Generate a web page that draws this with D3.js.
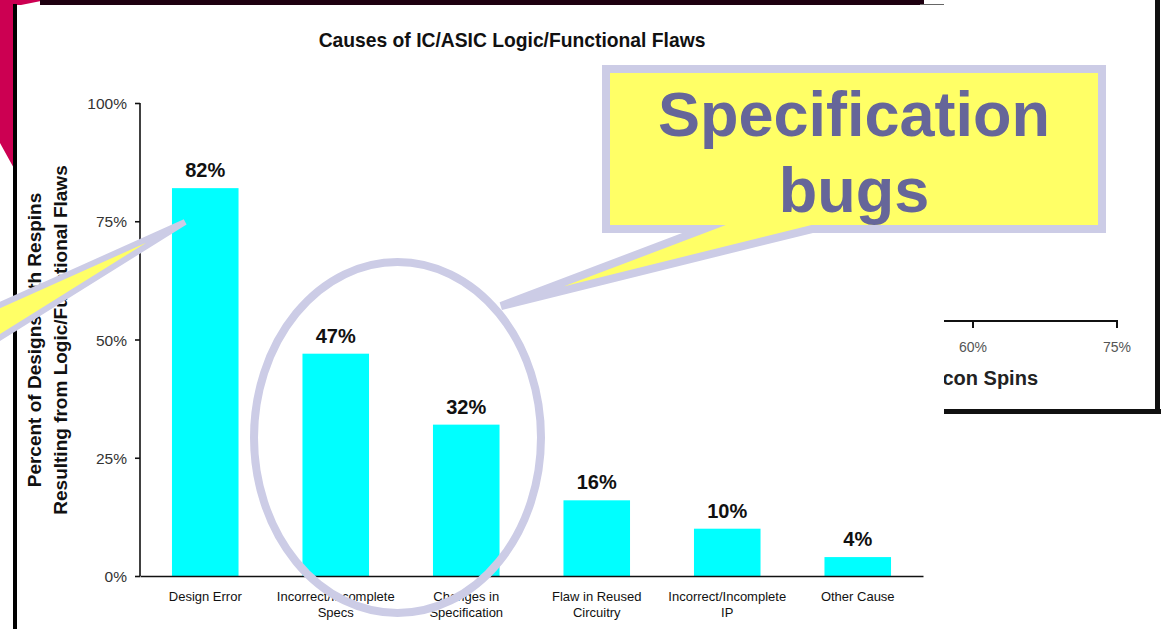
<!DOCTYPE html>
<html>
<head>
<meta charset="utf-8">
<script src="https://cdn.jsdelivr.net/npm/d3@7"></script>
<style>
  body { margin: 0; background: #fff; }
  svg { display: block; font-family: "Liberation Sans", Arial, sans-serif; }
</style>
</head>
<body>
<div id="chart"></div>
<script>
// chart data
var categories = ["Design Error", "Incorrect/Incomplete Specs", "Changes in Specification",
                  "Flaw in Reused Circuitry", "Incorrect/Incomplete IP", "Other Cause"];
var labelLines = [["Design Error"], ["Incorrect/Incomplete", "Specs"], ["Changes in", "Specification"],
                  ["Flaw in Reused", "Circuitry"], ["Incorrect/Incomplete", "IP"], ["Other Cause"]];
var values = [82, 47, 32, 16, 10, 4];
var yTicks = [0, 25, 50, 75, 100];
// partly hidden chart behind the overlay
var backTicks = [60, 75];

drawSlide();

function drawSlide() {
    var width = 1161, height = 629;
    var svg = d3.select("#chart").append("svg")
        .attr("width", width)
        .attr("height", height);

    svg.append("rect").attr("width", width).attr("height", height).attr("fill", "#fff");

    // background chart on the right (mostly covered)
    var defs = svg.append("defs");
    defs.append("clipPath").attr("id", "backclip")
      .append("rect").attr("x", 944).attr("y", 0).attr("width", 220).attr("height", 420);

    var back = svg.append("g").attr("clip-path", "url(#backclip)");
    var bx = d3.scaleLinear().domain([60, 75]).range([973, 1117]);
    back.append("line")
        .attr("x1", 900).attr("x2", bx(75))
        .attr("y1", 321).attr("y2", 321)
        .attr("stroke", "#111").attr("stroke-width", 2);
    back.selectAll(".btick").data(backTicks).enter().append("line")
        .attr("x1", d => bx(d)).attr("x2", d => bx(d))
        .attr("y1", 320).attr("y2", 328)
        .attr("stroke", "#111").attr("stroke-width", 2);
    back.selectAll(".blabel").data(backTicks).enter().append("text")
        .attr("x", d => bx(d)).attr("y", 352)
        .attr("text-anchor", "middle")
        .attr("font-size", 14)
        .attr("fill", "#555")
        .text(d => d + "%");
    back.append("text")
        .attr("x", 1038).attr("y", 385)
        .attr("text-anchor", "end")
        .attr("font-size", 20).attr("font-weight", "bold")
        .attr("fill", "#222")
        .text("Silicon Spins");
    back.append("rect").attr("x", 930).attr("y", 409).attr("width", 231).attr("height", 5).attr("fill", "#111");
    back.append("rect").attr("x", 1155).attr("y", 0).attr("width", 5).attr("height", 414).attr("fill", "#111");

    // slide decoration at top left
    svg.append("polygon")
        .attr("points", "0,0 46,0 16,6 16,172 0,143")
        .attr("fill", "#cc0052");
    svg.append("rect").attr("x", 40).attr("y", 0).attr("width", 884).attr("height", 5).attr("fill", "#1e0010");
    svg.append("line").attr("x1", 920).attr("x2", 944).attr("y1", 4.5).attr("y2", 4.5)
        .attr("stroke", "#666").attr("stroke-width", 1);

    // main chart panel
    svg.append("rect").attr("x", 17).attr("y", 5).attr("width", 927).attr("height", 624).attr("fill", "#fff");
    svg.append("rect").attr("x", 13).attr("y", 4).attr("width", 4).attr("height", 625).attr("fill", "#000");

    var x = d3.scaleBand()
        .domain(categories)
        .range([140, 923])
        .paddingInner(0.49)
        .paddingOuter(0.245);
    var y = d3.scaleLinear().domain([0, 100]).range([576, 103]);

    var g = svg.append("g");

    g.append("text")
        .attr("x", 512).attr("y", 47)
        .attr("text-anchor", "middle")
        .attr("font-size", 19.3).attr("font-weight", "bold")
        .attr("fill", "#111")
        .text("Causes of IC/ASIC Logic/Functional Flaws");

    g.selectAll(".bar").data(values).enter().append("rect")
        .attr("x", (d, i) => x(categories[i]))
        .attr("y", d => y(d))
        .attr("width", x.bandwidth())
        .attr("height", d => y(0) - y(d))
        .attr("fill", "#00ffff");

    g.selectAll(".val").data(values).enter().append("text")
        .attr("x", (d, i) => x(categories[i]) + x.bandwidth() / 2)
        .attr("y", d => y(d) - 11)
        .attr("text-anchor", "middle")
        .attr("font-size", 20).attr("font-weight", "bold")
        .attr("fill", "#111")
        .text(d => d + "%");

    var yAxis = g.append("g")
        .attr("transform", "translate(140,0)")
        .call(d3.axisLeft(y).tickValues(yTicks).tickSize(5).tickFormat(d => d + "%"));
    yAxis.select(".domain").attr("stroke", "#111").attr("stroke-width", 1.6).attr("d", "M0," + y(100) + "V" + y(0));
    yAxis.selectAll(".tick line").attr("stroke", "#111").attr("stroke-width", 1.6);
    yAxis.selectAll(".tick text")
        .attr("x", -13).attr("dy", "0.36em")
        .attr("font-size", 15.5)
        .attr("font-family", "Liberation Sans, Arial, sans-serif")
        .attr("fill", "#333");

    var xAxis = g.append("g")
        .attr("transform", "translate(0," + y(0) + ")")
        .call(d3.axisBottom(x).tickSize(0).tickFormat(""));
    xAxis.select(".domain").attr("stroke", "#111").attr("stroke-width", 1.6);

    g.selectAll(".cat").data(labelLines).enter().append("text")
        .attr("x", (d, i) => x(categories[i]) + x.bandwidth() / 2)
        .attr("y", 601)
        .attr("text-anchor", "middle")
        .attr("font-size", 13)
        .attr("fill", "#111")
        .each(function(d) {
            d3.select(this).selectAll("tspan").data(d).enter().append("tspan")
              .attr("x", d3.select(this).attr("x"))
              .attr("dy", (t, j) => j ? 16 : 0)
              .text(t => t);
        });

    var yt = g.append("text")
        .attr("transform", "translate(0,340) rotate(-90)")
        .attr("text-anchor", "middle")
        .attr("font-size", 19).attr("font-weight", "bold")
        .attr("fill", "#111");
    yt.append("tspan").attr("x", 0).attr("y", 41).text("Percent of Designs with Respins");
    yt.append("tspan").attr("x", 0).attr("y", 67).text("Resulting from Logic/Functional Flaws");

    // overlay: ellipse round the specification bars
    var lav = "#ccccE6";
    svg.append("ellipse")
        .attr("cx", 397.5).attr("cy", 437.5)
        .attr("rx", 143.5).attr("ry", 175.5)
        .attr("fill", "none").attr("stroke", lav).attr("stroke-width", 8);

    // callout box
    svg.append("path")
        .attr("d", "M606,69H1102V229H812L501,306L704,229H606Z")
        .attr("fill", "#ffff66").attr("stroke", lav).attr("stroke-width", 8)
        .attr("stroke-linejoin", "miter").attr("stroke-miterlimit", 10);
    var ct = svg.append("text")
        .attr("text-anchor", "middle")
        .attr("font-size", 63).attr("font-weight", "bold")
        .attr("fill", "#666699");
    ct.append("tspan").attr("x", 854).attr("y", 136).text("Specification");
    ct.append("tspan").attr("x", 854).attr("y", 212).text("bugs");

    // tail of another callout from the left
    svg.append("path")
        .attr("d", "M185,222L-60,332L-60,375Z")
        .attr("fill", "#ffff66").attr("stroke", lav).attr("stroke-width", 6)
        .attr("stroke-linejoin", "miter").attr("stroke-miterlimit", 10);
}
</script>
</body>
</html>
